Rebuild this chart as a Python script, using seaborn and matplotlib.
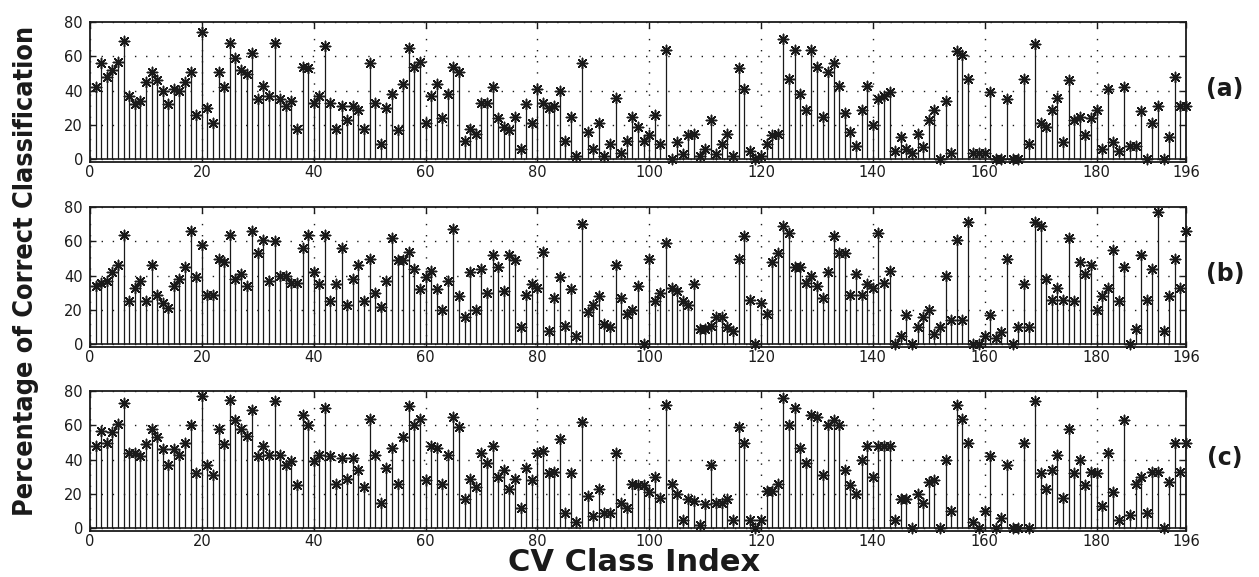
import numpy as np
import pandas as pd
import matplotlib
matplotlib.use('Agg')
import matplotlib.pyplot as plt
from matplotlib import font_manager
import seaborn as sns

# Percentage of correct classification per CV class
acc_a = [42, 56, 48, 52, 57, 69, 37, 32, 34, 45, 51, 46, 40, 32, 41, 40, 45, 51, 26, 74,
         30, 21, 51, 42, 68, 59, 52, 50, 62, 35, 43, 37, 68, 35, 31, 34, 18, 54, 53, 33,
         37, 66, 33, 18, 31, 23, 31, 29, 18, 56, 33, 9, 30, 38, 17, 44, 65, 54, 57, 21,
         37, 44, 24, 38, 54, 51, 11, 18, 15, 33, 33, 42, 24, 19, 17, 25, 6, 32, 21, 41,
         33, 30, 31, 40, 11, 25, 2, 56, 16, 6, 21, 2, 9, 36, 4, 11, 25, 19, 11, 14,
         26, 9, 64, 0, 10, 3, 14, 15, 2, 6, 23, 3, 9, 15, 2, 53, 41, 5, 0, 2,
         9, 14, 15, 70, 47, 64, 38, 29, 64, 54, 25, 51, 56, 43, 27, 16, 8, 29, 43, 20,
         35, 37, 39, 5, 13, 6, 4, 15, 7, 23, 29, 0, 34, 4, 63, 61, 47, 4, 4, 4,
         39, 0, 0, 35, 0, 0, 47, 9, 67, 21, 19, 29, 36, 10, 46, 23, 25, 14, 24, 29,
         6, 41, 10, 5, 42, 8, 8, 28, 0, 21, 31, 0, 13, 48, 31, 31]

acc_b = [34, 36, 37, 42, 46, 64, 25, 33, 37, 25, 46, 29, 24, 21, 34, 38, 45, 66, 39, 58,
         29, 29, 50, 48, 64, 38, 41, 34, 66, 53, 61, 37, 60, 40, 40, 36, 36, 56, 64, 42,
         35, 64, 25, 35, 56, 23, 38, 46, 25, 50, 30, 22, 37, 62, 49, 49, 54, 44, 32, 39,
         43, 32, 20, 37, 67, 28, 16, 42, 20, 44, 30, 52, 45, 31, 52, 49, 10, 29, 35, 33,
         54, 8, 27, 39, 11, 32, 5, 70, 19, 23, 28, 12, 10, 46, 27, 18, 20, 34, 0, 50,
         25, 30, 59, 33, 31, 25, 23, 35, 9, 9, 11, 16, 16, 10, 8, 50, 63, 26, 0, 24,
         18, 48, 53, 69, 65, 45, 45, 36, 40, 34, 27, 42, 63, 53, 53, 29, 41, 29, 35, 33,
         65, 36, 43, 0, 5, 17, 0, 10, 16, 20, 6, 10, 40, 14, 61, 14, 71, 0, 0, 5,
         17, 4, 7, 50, 0, 10, 35, 10, 71, 69, 38, 26, 33, 26, 62, 25, 48, 41, 46, 20,
         28, 33, 55, 25, 45, 0, 9, 52, 26, 44, 77, 8, 28, 50, 33, 66]

acc_c = [48, 57, 50, 56, 61, 73, 44, 44, 42, 49, 58, 53, 46, 37, 46, 43, 50, 60, 32, 77,
         37, 31, 58, 49, 75, 63, 58, 54, 69, 42, 48, 43, 74, 43, 37, 39, 25, 66, 60, 39,
         43, 70, 42, 26, 41, 29, 41, 34, 24, 64, 43, 15, 35, 47, 26, 53, 71, 60, 64, 28,
         48, 47, 26, 43, 65, 59, 17, 29, 24, 44, 38, 48, 30, 34, 23, 29, 12, 35, 28, 44,
         45, 32, 33, 52, 9, 32, 4, 62, 19, 7, 23, 9, 9, 44, 15, 12, 26, 25, 25, 21,
         30, 18, 72, 26, 20, 5, 17, 16, 2, 14, 37, 15, 15, 17, 5, 59, 50, 5, 0, 5,
         22, 22, 26, 76, 60, 70, 47, 38, 66, 65, 31, 60, 63, 60, 34, 25, 20, 40, 48, 30,
         48, 48, 48, 5, 17, 17, 0, 20, 15, 27, 28, 0, 40, 10, 72, 64, 50, 4, 0, 10,
         42, 0, 6, 37, 0, 0, 50, 0, 74, 32, 23, 34, 43, 18, 58, 32, 40, 25, 33, 32,
         13, 44, 21, 5, 63, 8, 26, 30, 9, 33, 33, 0, 27, 50, 33, 50]

panel_tags = ['(a)', '(b)', '(c)']
x_ticks = [0, 20, 40, 60, 80, 100, 120, 140, 160, 180, 196]
y_ticks = [0, 20, 40, 60, 80]

sns.set_theme(style='white')
plt.rcParams['font.family'] = ['DejaVu Sans']
plt.rcParams['text.color'] = 'k'

# pick a narrow font for the tall y label if one is installed
font_names = {(f.name, str(f.stretch)) for f in font_manager.fontManager.ttflist}
if any(n == 'Liberation Sans Narrow' for n, _ in font_names):
    ylab_fam, ylab_stretch = 'Liberation Sans Narrow', 'normal'
elif ('DejaVu Sans', 'condensed') in font_names:
    ylab_fam, ylab_stretch = 'DejaVu Sans', 'condensed'
else:
    ylab_fam, ylab_stretch = 'Liberation Sans', 'normal'

fig = plt.figure(figsize=(12.59, 5.77), dpi=100)

# axes boxes in figure fractions
bottoms = [0.7192, 0.3986, 0.0797]
for acc, tag, bot in zip([acc_a, acc_b, acc_c], panel_tags, bottoms):
    df = pd.DataFrame({'cls': np.arange(1, len(acc) + 1), 'pct': acc})
    ax = fig.add_axes([0.0715, bot, 0.8705, 0.2426])

    ax.vlines(df['cls'], 0, df['pct'], color='k', lw=0.9)
    ax.axhline(0, color='k', lw=1.2)
    sns.scatterplot(data=df, x='cls', y='pct', ax=ax, marker=(8, 2, 0), s=55,
                    color='k', linewidth=1.1, legend=False, clip_on=False, zorder=3)

    ax.set_xlim(0, 196)
    ax.set_ylim(-1.5, 80)
    ax.set_xticks(x_ticks)
    ax.set_yticks(y_ticks)
    ax.grid(True, color='k', linestyle=(0, (1, 7)), linewidth=1.0)
    ax.tick_params(direction='in', length=4, width=1, pad=2, labelsize=10.5,
                   colors='k', bottom=True, left=True, top=True, right=True)
    ax.tick_params(axis='y', pad=5)
    ax.set_xlabel('')
    ax.set_ylabel('')
    for sp in ax.spines.values():
        sp.set_color('k')
        sp.set_linewidth(1.3)

    fig.text(0.973, bot + 0.2426 * 0.52, tag, fontsize=17, fontweight='bold',
             ha='center', va='center', color='k')

ylab = fig.text(0.021, 0.53, 'Percentage of Correct Classification', rotation=90,
                fontsize=21, fontweight='bold', ha='center', va='center', color='k',
                family=[ylab_fam, 'DejaVu Sans'], fontstretch=ylab_stretch)
fig.text(0.504, 0.0, 'CV Class Index', fontsize=22, fontweight='bold',
         ha='center', va='bottom', color='k')

# scale the y label so it spans the same height as in the original
fig.canvas.draw()
h = ylab.get_window_extent().height
ylab.set_fontsize(min(24, 21 * 490 / h))

fig.savefig('out.png', dpi=100)
